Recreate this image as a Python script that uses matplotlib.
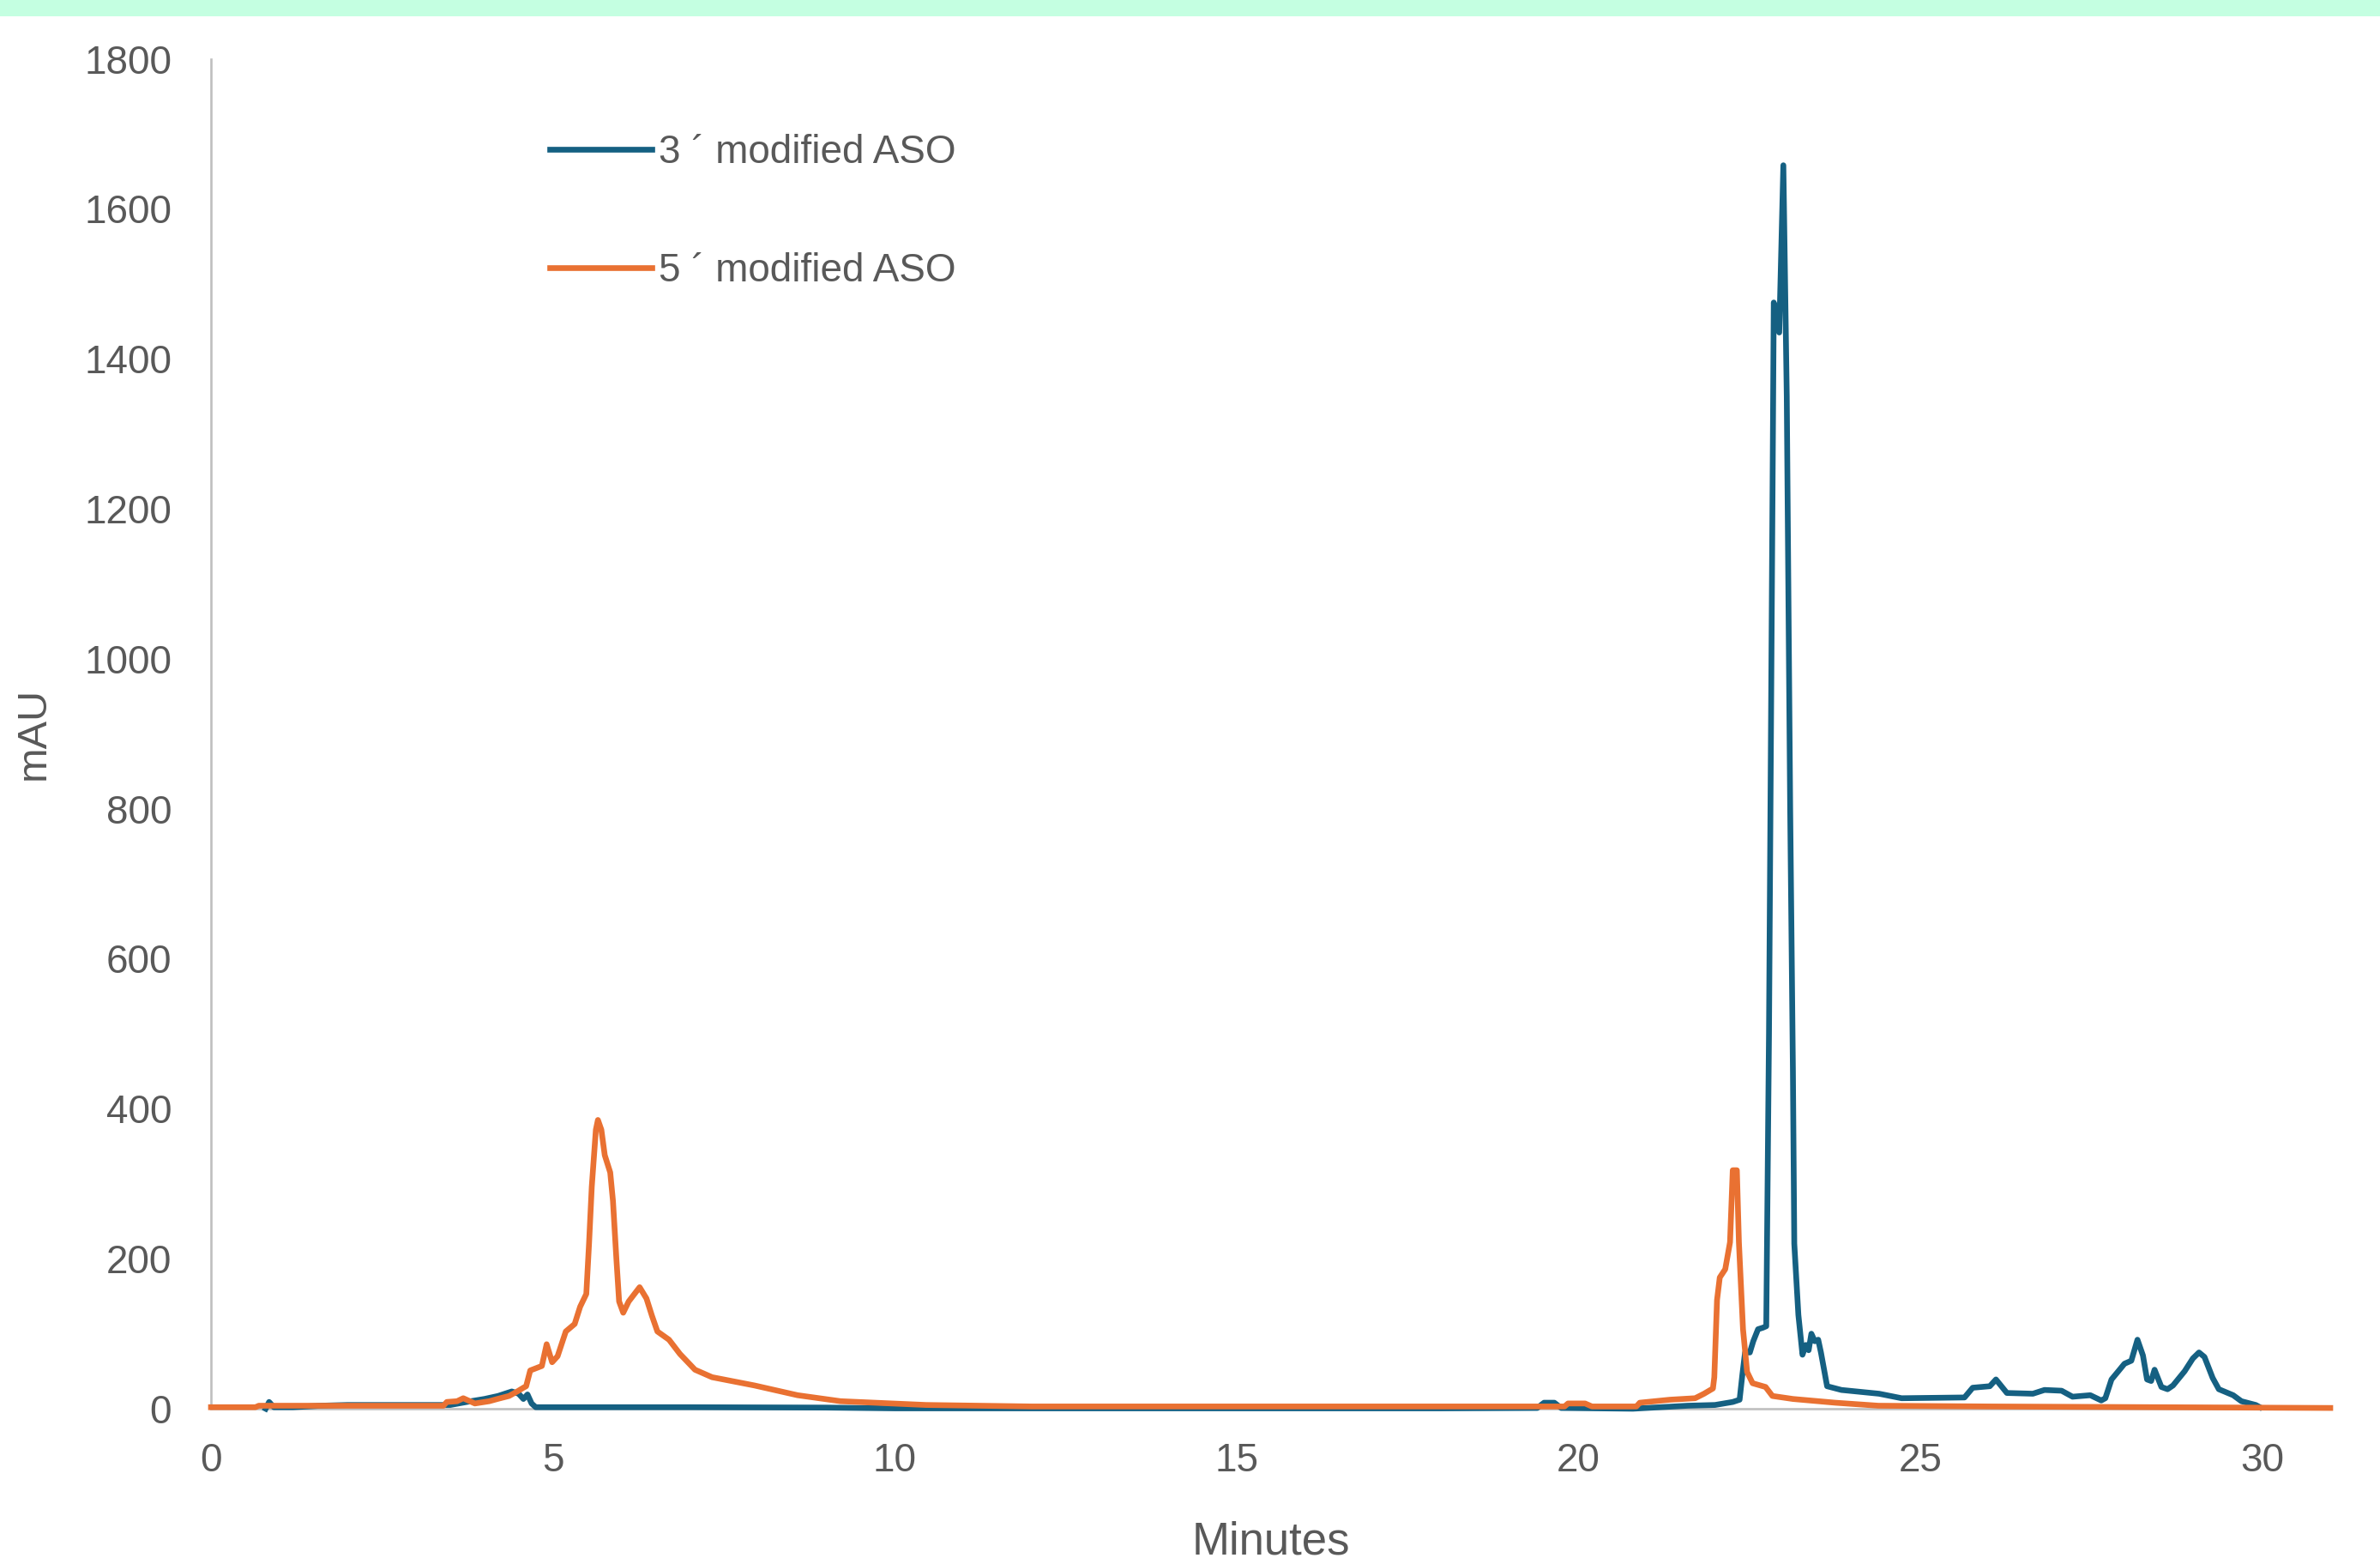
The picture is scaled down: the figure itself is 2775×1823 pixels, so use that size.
import matplotlib
matplotlib.use("Agg")
import matplotlib.pyplot as plt
from matplotlib.patches import Rectangle

# ---------------- data ----------------
series_names = ["3 \u00b4 modified ASO", "5 \u00b4 modified ASO"]

aso3_minutes = [0.80, 0.85, 0.92, 1.2, 1.6, 2.0, 2.5, 3.0, 3.5, 3.8, 4.0, 4.2, 4.4,
                4.5, 4.57, 4.63, 4.69, 4.75, 5.0, 7.0, 9.0, 10.0, 12.0, 15.0, 18.0,
                19.4, 19.5, 19.65, 19.75, 20.8, 21.0, 21.6, 22.0, 22.26, 22.36, 22.40,
                22.44, 22.51, 22.56, 22.63, 22.70, 22.75, 22.79, 22.86, 22.94, 23.00,
                23.05, 23.10, 23.14, 23.16, 23.22, 23.28, 23.33, 23.37, 23.41, 23.46,
                23.51, 23.55, 23.64, 23.85, 24.4, 24.73, 25.65, 25.77, 26.02, 26.11,
                26.27, 26.65, 26.82, 27.07, 27.23, 27.49, 27.65, 27.71, 27.80, 27.90,
                27.99, 28.09, 28.18, 28.26, 28.32, 28.38, 28.43, 28.53, 28.62, 28.70,
                28.87, 28.99, 29.08, 29.16, 29.28, 29.37, 29.58, 29.70, 29.91, 29.97]
aso3_mau = [0, 9, 2, 2, 4, 5, 5, 5, 5, 10, 13, 17, 23,
            20, 13, 19, 7, 2, 2, 2, 1.5, 0.5, 0.5, 0.5, 0.5,
            1, 8, 8, 1, 0, 1, 4, 5, 9, 12, 45,
            75, 75, 90, 106, 108, 110, 500, 1475, 1435, 1658,
            1350, 800, 450, 220, 125, 72, 85, 78, 100, 90,
            92, 75, 30, 25, 20, 14, 15, 28, 30, 39,
            21, 20, 25, 24, 16, 18, 11, 14, 39, 50,
            60, 64, 92, 71, 39, 37, 52, 29, 26, 31,
            50, 67, 75, 69, 41, 26, 18, 10, 5, 2]

aso5_minutes = [0.0, 0.65, 0.70, 3.40, 3.45, 3.6, 3.69, 3.86, 4.07, 4.19, 4.36, 4.48,
                4.57, 4.61, 4.67, 4.84, 4.91, 4.99, 5.07, 5.19, 5.32, 5.40, 5.49, 5.53,
                5.57, 5.63, 5.66, 5.71, 5.76, 5.84, 5.88, 5.93, 5.97, 6.03, 6.11, 6.27,
                6.37, 6.45, 6.53, 6.70, 6.86, 7.08, 7.33, 7.95, 8.58, 9.21, 10.46,
                12.0, 15.0, 18.0, 19.8, 19.85, 20.1, 20.2, 20.85, 20.9, 21.34, 21.71,
                21.84, 21.97, 21.99, 22.03, 22.07, 22.15, 22.22, 22.26, 22.32, 22.35,
                22.41, 22.47, 22.55, 22.74, 22.84, 23.14, 23.76, 24.39, 26.0, 31.0]
aso5_mau = [2, 2, 4, 4, 9, 10, 14, 7, 10, 13, 17, 23,
            28, 30, 51, 57, 86, 62, 70, 103, 113, 136, 153, 220,
            296, 372, 385, 372, 338, 315, 277, 200, 143, 128, 143, 162,
            147, 124, 103, 92, 73, 52, 42, 31, 18, 10, 5,
            3, 3, 3, 3, 7, 7, 3, 3, 8, 12, 14,
            20, 27, 42, 145, 175, 186, 222, 318, 318, 222,
            106, 49, 34, 29, 17, 13, 8, 4, 3, 1]

x_ticks = [0, 5, 10, 15, 20, 25, 30]
y_ticks = [0, 200, 400, 600, 800, 1000, 1200, 1400, 1600, 1800]
x_title = "Minutes"
y_title = "mAU"

# ---------------- styling ----------------
plt.rcParams["font.family"] = ["Liberation Sans", "DejaVu Sans"]
BLUE = "#156082"
ORANGE = "#E97132"
GREY_TXT = "#595959"
GREY_AX = "#BFBFBF"

W, H = 2775, 1823
fig = plt.figure(figsize=(W / 100, H / 100), dpi=100)
fig.patches.append(Rectangle((0, 1 - 19 / H), 1, 19 / H, transform=fig.transFigure,
                             facecolor="#C4FFE1", edgecolor="none", zorder=0))

left, right, bottom, top = 246 / W, 2717 / W, 1 - 1642 / H, 1 - 68.5 / H
ax = fig.add_axes([left, bottom, right - left, top - bottom])

ax.plot(aso3_minutes, aso3_mau, color=BLUE, lw=4.8, solid_joinstyle="round",
        clip_on=False, zorder=3, label=series_names[0])
ax.plot(aso5_minutes, aso5_mau, color=ORANGE, lw=4.8, solid_joinstyle="round",
        clip_on=False, zorder=4, label=series_names[1])

ax.set_xlim(0, 31)
ax.set_ylim(0, 1800)
ax.set_xticks(x_ticks)
ax.set_yticks(y_ticks)

for s in ("top", "right"):
    ax.spines[s].set_visible(False)
for s in ("left", "bottom"):
    ax.spines[s].set_color(GREY_AX)
    ax.spines[s].set_linewidth(1.9)

ax.tick_params(axis="both", length=0, labelsize=33, labelcolor=GREY_TXT)
ax.tick_params(axis="x", pad=28)
ax.tick_params(axis="y", pad=33)

ax.set_xlabel(x_title, fontsize=38, color=GREY_TXT, va="center")
ax.xaxis.set_label_coords(0.5, (1642 - 1797) / (1642 - 68.5))
ax.set_ylabel(y_title, fontsize=35, color=GREY_TXT, va="center")
ax.yaxis.set_label_coords((39 - 246) / (2717 - 246), 0.5)

ax.legend(loc="upper left", bbox_to_anchor=(641 / W, 1 - 156 / H),
          bbox_transform=fig.transFigure, frameon=False, fontsize=33,
          handlelength=2.6, handletextpad=0.16, labelspacing=2.06,
          borderpad=0, borderaxespad=0, labelcolor=GREY_TXT)

fig.savefig("out.png", dpi=100, facecolor="white")
